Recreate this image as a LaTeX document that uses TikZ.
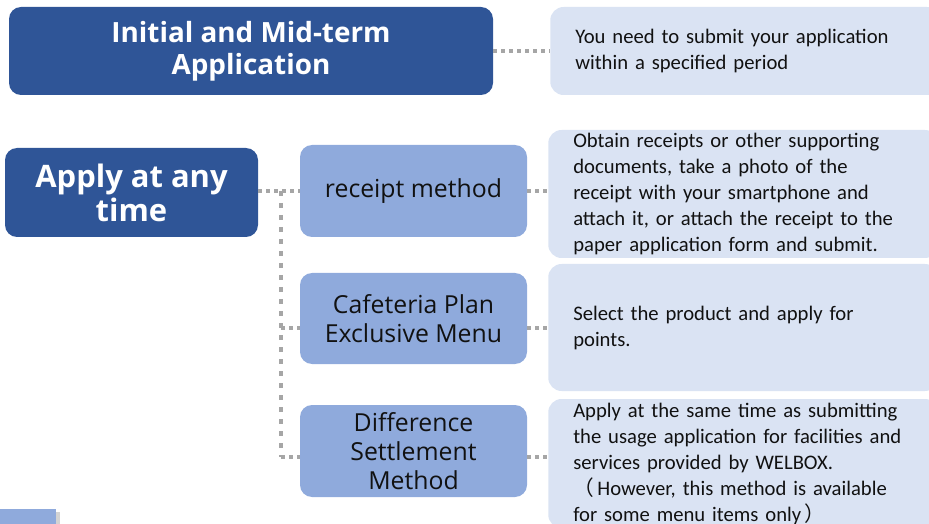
\documentclass[tikz,border=0pt]{standalone}
\usepackage{fontspec}
\setmainfont{Carlito}
\newfontfamily\boxfont{Open Sans}
\newfontfamily\cjk{Noto Sans CJK JP}
\usetikzlibrary{calc,shadows}
\definecolor{dark}{HTML}{2F5597}
\definecolor{mid}{HTML}{8FAADC}
\definecolor{light}{HTML}{DAE3F3}
\definecolor{dotc}{HTML}{A6A6A6}
\definecolor{ink}{HTML}{111111}
\begin{document}
\begin{tikzpicture}[x=0.75pt,y=-0.75pt,
  darkbox/.style={fill=dark, rounded corners=9pt, text=white, align=center, inner sep=0pt,
    font=\boxfont\bfseries},
  midbox/.style={fill=mid, rounded corners=9pt, text=ink, align=center, inner sep=0pt,
    minimum width=170.25pt, font=\boxfont\fontsize{18.6}{21.75}\selectfont},
  descbox/.style={fill=light, rounded corners=10pt, text=ink, align=left, anchor=west,
    inner xsep=18.75pt, inner ysep=0pt, text width=255pt, font=\fontsize{15.5}{19.5}\selectfont},
  hdots/.style={draw=dotc, line width=3pt, dash pattern=on 3pt off 3pt},
  vdots/.style={draw=dotc, line width=3.5pt, dash pattern=on 3.5pt off 5.5pt}]
\useasboundingbox (0,0) rectangle (929,524);

% left column
\node[darkbox, minimum width=363pt, minimum height=66pt,
  font=\boxfont\bfseries\fontsize{20.9}{24}\selectfont] (init) at (251,51)
  {Initial and Mid-term\\Application};
\node[darkbox, minimum width=189.75pt, minimum height=66.75pt,
  font=\boxfont\bfseries\fontsize{23.2}{25.5}\selectfont] (apply) at (131.5,192.5)
  {Apply at any\\time};

% middle column
\node[midbox, minimum height=69pt] (receipt) at (413.5,191) {receipt method};
\node[midbox, minimum height=68.25pt] (cafe) at (413.5,318.5) {Cafeteria Plan\\Exclusive Menu};
\node[midbox, minimum height=69pt] (diff) at (413.5,451) {Difference\\Settlement\\Method};

% right column
\node[descbox, minimum height=66pt] (d1) at (550,51)
  {You need to submit your application\\within a specified period};
\node[descbox, minimum height=96pt] (d2) at (548,194)
  {Obtain receipts or other supporting\\documents, take a photo of the\\receipt with your smartphone and\\attach it, or attach the receipt to the\\paper application form and submit.};
\node[descbox, minimum height=95.25pt] (d3) at (548,327.5)
  {Select the product and apply for\\points.};
\node[descbox, minimum height=96.75pt] (d4) at (548,463.5)
  {Apply at the same time as submitting\\the usage application for facilities and\\services provided by WELBOX.\\{\cjk （}\,However, this method is available\\for some menu items only\,{\cjk ）}};

% partial box bottom left
\fill[mid, drop shadow={opacity=0.35, shadow xshift=3pt, shadow yshift=-2pt}] (-20,509) rectangle (56,540);

% connectors
\draw[hdots] (init.east) -- (init.east -| d1.west);
\coordinate (top) at ($(apply.east)!0.55!(apply.east -| receipt.west)$);
\coordinate (j0) at (top |- receipt.west);
\coordinate (j1) at ($(top |- cafe.west)+(0,9.5)$);
\coordinate (j2) at ($(top |- diff.west)+(0,6)$);
\draw[hdots] (apply.east |- receipt.west) -- (receipt.west);
\draw[vdots] (j0) -- (j2);
\draw[hdots] (j1) -- (j1 -| cafe.west);
\draw[hdots] (j2) -- (j2 -| diff.west);
\draw[hdots] (receipt.east) -- (receipt.east -| d2.west);
\draw[hdots] ($(cafe.east)+(0,9.5)$) -- ($(cafe.east -| d3.west)+(0,9.5)$);
\draw[hdots] ($(diff.east)+(0,6)$) -- ($(diff.east -| d4.west)+(0,6)$);
\end{tikzpicture}
\end{document}
